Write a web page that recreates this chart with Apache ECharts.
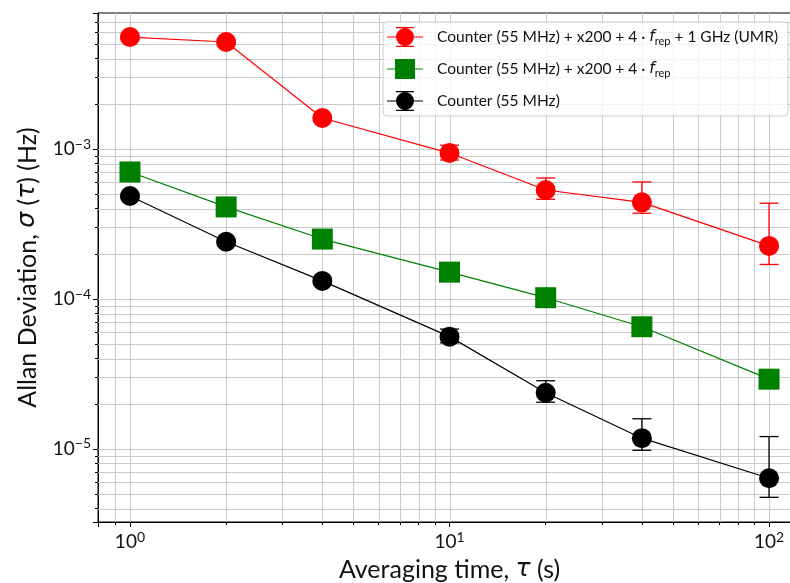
<!DOCTYPE html>
<html>
<head>
<meta charset="utf-8">
<script src="https://cdn.jsdelivr.net/npm/echarts@6/dist/echarts.min.js"></script>
<style>html,body{margin:0;padding:0;background:#fff;}#c{width:790px;height:583px;}</style>
</head>
<body>
<div id="c"></div>
<script>
// ---- data ----
const tau = [1, 2, 4, 10, 20, 40, 100];
const seriesNames = [
  'Counter (55 MHz) + x200 + 4 · frep + 1 GHz (UMR)',
  'Counter (55 MHz) + x200 + 4 · frep',
  'Counter (55 MHz)'
];
const umrValues = [5.58e-3, 5.17e-3, 1.61e-3, 9.4e-4, 5.33e-4, 4.41e-4, 2.26e-4];
const umrLow    = [5.38e-3, 4.98e-3, 1.55e-3, 8.45e-4, 4.62e-4, 3.73e-4, 1.70e-4];
const umrHigh   = [5.78e-3, 5.36e-3, 1.67e-3, 1.06e-3, 6.41e-4, 6.03e-4, 4.35e-4];
const combValues = [7.03e-4, 4.11e-4, 2.51e-4, 1.51e-4, 1.02e-4, 6.53e-5, 2.92e-5];
const counterValues = [4.86e-4, 2.41e-4, 1.32e-4, 5.61e-5, 2.37e-5, 1.18e-5, 6.38e-6];
const counterLow    = [4.70e-4, 2.33e-4, 1.27e-4, 5.10e-5, 2.05e-5, 9.8e-6, 4.76e-6];
const counterHigh   = [5.02e-4, 2.49e-4, 1.37e-4, 6.30e-5, 2.85e-5, 1.59e-5, 1.21e-5];

// axis ranges and gridline positions
const xMin = Math.pow(10, -0.1), xMax = Math.pow(10, 2.1);
const yMin = Math.pow(10, -5.487), yMax = Math.pow(10, -2.093);
const xDecades = [0.1, 1, 10, 100];
const yDecades = [1e-6, 1e-5, 1e-4, 1e-3];
const minorMultiples = [2, 3, 4, 5, 6, 7, 8, 9];

function gridValues(decades, lo, hi) {
  const major = [], minor = [];
  decades.forEach(d => {
    if (d > lo * 1.001 && d < hi * 0.999) major.push(d);
    minorMultiples.forEach(m => {
      const v = m * d;
      if (v > lo * 1.01 && v < hi * 0.99) minor.push(v);
    });
  });
  return {major, minor};
}
const xg = gridValues(xDecades, xMin, xMax);
const yg = gridValues(yDecades, yMin, yMax);

const FONT = 'Lato';
const TXT = '#111';
const colors = ['#ff0000', '#008000', '#000000'];

function pow10Label(v) {
  const e = Math.log10(v);
  const r = Math.round(e);
  if (Math.abs(e - r) > 1e-6) return '';
  return '{b|10}{s|' + (r < 0 ? '\u2212' : '') + Math.abs(r) + '}';
}
const tickRich = {
  b: {fontSize: 19, fontFamily: FONT, color: TXT},
  s: {fontSize: 14, fontFamily: FONT, color: TXT, padding: [0, 0, 10, 0]}
};

function zip3(a, b, c) { return a.map((v, i) => [v, b[i], c[i]]); }
function pts(vals) { return tau.map((t, i) => [t, vals[i]]); }

function errRender(color) {
  return function (params, api) {
    const x = api.value(0), lo = api.value(1), hi = api.value(2);
    const p1 = api.coord([x, hi]), p2 = api.coord([x, lo]);
    const cw = 9.5;
    const st = {stroke: color, lineWidth: 1.3};
    return {
      type: 'group',
      children: [
        {type: 'line', shape: {x1: p1[0], y1: p1[1], x2: p2[0], y2: p2[1]}, style: st},
        {type: 'line', shape: {x1: p1[0] - cw, y1: p1[1], x2: p1[0] + cw, y2: p1[1]}, style: st},
        {type: 'line', shape: {x1: p2[0] - cw, y1: p2[1], x2: p2[0] + cw, y2: p2[1]}, style: st}
      ]
    };
  };
}
const gridStyle = {stroke: '#c9c9c9', lineWidth: 1};
function vGridRender(params, api) {
  const cs = params.coordSys;
  const p = api.coord([api.value(0), yMin]);
  const x = Math.round(p[0]) + 0.5;
  return {type: 'line', silent: true, shape: {x1: x, y1: cs.y, x2: x, y2: cs.y + cs.height}, style: gridStyle};
}
function hGridRender(params, api) {
  const cs = params.coordSys;
  const p = api.coord([xMin, api.value(1)]);
  const y = Math.round(p[1]) + 0.5;
  return {type: 'line', silent: true, shape: {x1: cs.x, y1: y, x2: cs.x + cs.width, y2: y}, style: gridStyle};
}

const iconCircleErr = 'path://M0 9.4H36V10.6H0Z M27 10A9 9 0 1 1 9 10A9 9 0 1 1 27 10Z M9 0H27V1.3H9Z M9 18.7H27V20H9Z';
const iconSquare = 'path://M0 9.4H36V10.6H0Z M8 0H28V20H8Z';

const LFS = 15.5;
const legendRich = {
  n: {fontSize: LFS, fontFamily: FONT, color: TXT},
  i: {fontSize: LFS, fontFamily: 'DejaVu Sans', color: TXT, fontStyle: 'italic'},
  sub: {fontSize: 11, fontFamily: FONT, color: TXT, padding: [9, 0, 0, 0]}
};
function legendFmt(name) {
  const parts = name.split('frep');
  if (parts.length === 1) return '{n|' + name + '}';
  return '{n|' + parts[0] + '}{i|f}{sub|rep}{n|' + parts[1] + '}';
}

const NFS = 25;
const chart = echarts.init(document.getElementById('c'), null, {renderer: 'canvas'});
chart.setOption({
  backgroundColor: '#fff',
  animation: false,
  grid: {left: 98, top: 13, width: 703, bottom: 61, containLabel: false, outerBoundsMode: 'none',
    show: true, borderColor: '#000', borderWidth: 1, backgroundColor: 'transparent'},
  xAxis: [{
    type: 'log', logBase: 10, min: xMin, max: xMax,
    position: 'bottom',
    axisLine: {show: true, onZero: false, lineStyle: {color: '#000', width: 1}},
    axisTick: {show: true, inside: false, length: 5, lineStyle: {color: '#000'}},
    axisLabel: {formatter: pow10Label, rich: tickRich, margin: 8, hideOverlap: false},
    splitLine: {show: false},
    name: 'Averaging time, {i|τ} (s)',
    nameLocation: 'middle', nameGap: 35,
    nameTextStyle: {fontSize: NFS, fontFamily: FONT, color: TXT,
      rich: {i: {fontSize: NFS, fontFamily: 'DejaVu Sans', fontStyle: 'italic', color: TXT}}}
  }, {
    type: 'log', logBase: 10, min: xMin, max: xMax,
    position: 'bottom',
    axisLine: {show: false, onZero: false},
    axisTick: {show: true, inside: false, length: 3, customValues: xg.minor, lineStyle: {color: '#000'}},
    axisLabel: {show: false},
    splitLine: {show: false}
  }],
  yAxis: [{
    type: 'log', logBase: 10, min: yMin, max: yMax,
    position: 'left',
    axisLine: {show: true, onZero: false, lineStyle: {color: '#000', width: 1}},
    axisTick: {show: true, inside: false, length: 5, lineStyle: {color: '#000'}},
    axisLabel: {formatter: pow10Label, rich: tickRich, margin: 7, hideOverlap: false},
    splitLine: {show: false},
    name: 'Allan Deviation, {i|σ} ({i|τ}) (Hz)',
    nameLocation: 'middle', nameGap: 58, nameRotate: 90,
    nameTextStyle: {fontSize: NFS, fontFamily: FONT, color: TXT,
      rich: {i: {fontSize: NFS, fontFamily: 'DejaVu Sans', fontStyle: 'italic', color: TXT}}}
  }, {
    type: 'log', logBase: 10, min: yMin, max: yMax,
    position: 'left',
    axisLine: {show: false, onZero: false},
    axisTick: {show: true, inside: false, length: 3, customValues: yg.minor, lineStyle: {color: '#000'}},
    axisLabel: {show: false},
    splitLine: {show: false}
  }],
  legend: {
    orient: 'vertical', left: 383, top: 22,
    padding: [5, 10, 5, 4], itemGap: 12, itemWidth: 36, itemHeight: 20,
    backgroundColor: 'rgba(255,255,255,0.8)', borderColor: '#cccccc', borderWidth: 1, borderRadius: 4,
    formatter: legendFmt,
    textStyle: {rich: legendRich, padding: [0, 0, 0, 9]},
    data: [
      {name: seriesNames[0], icon: iconCircleErr},
      {name: seriesNames[1], icon: iconSquare},
      {name: seriesNames[2], icon: iconCircleErr}
    ]
  },
  series: [
    {type: 'custom', name: '__vgrid', renderItem: vGridRender, silent: true, z: 1,
      data: xg.major.concat(xg.minor).map(v => [v, yMin]), encode: {x: 0, y: 1}},
    {type: 'custom', name: '__hgrid', renderItem: hGridRender, silent: true, z: 1,
      data: yg.major.concat(yg.minor).map(v => [xMin, v]), encode: {x: 0, y: 1}},
    {type: 'custom', name: seriesNames[0], renderItem: errRender(colors[0]), data: zip3(tau, umrLow, umrHigh),
      encode: {x: 0, y: [1, 2]}, z: 2, silent: true, itemStyle: {color: colors[0]}},
    {type: 'custom', name: seriesNames[2], renderItem: errRender(colors[2]), data: zip3(tau, counterLow, counterHigh),
      encode: {x: 0, y: [1, 2]}, z: 2, silent: true, itemStyle: {color: colors[2]}},
    {type: 'line', name: seriesNames[0], data: pts(umrValues), z: 3, symbol: 'circle', symbolSize: 20,
      itemStyle: {color: colors[0]}, lineStyle: {color: colors[0], width: 1.2}},
    {type: 'line', name: seriesNames[1], data: pts(combValues), z: 3, symbol: 'rect', symbolSize: 21,
      itemStyle: {color: colors[1]}, lineStyle: {color: colors[1], width: 1.2}},
    {type: 'line', name: seriesNames[2], data: pts(counterValues), z: 3, symbol: 'circle', symbolSize: 20,
      itemStyle: {color: colors[2]}, lineStyle: {color: colors[2], width: 1.2}}
  ]
});
</script>
</body>
</html>
